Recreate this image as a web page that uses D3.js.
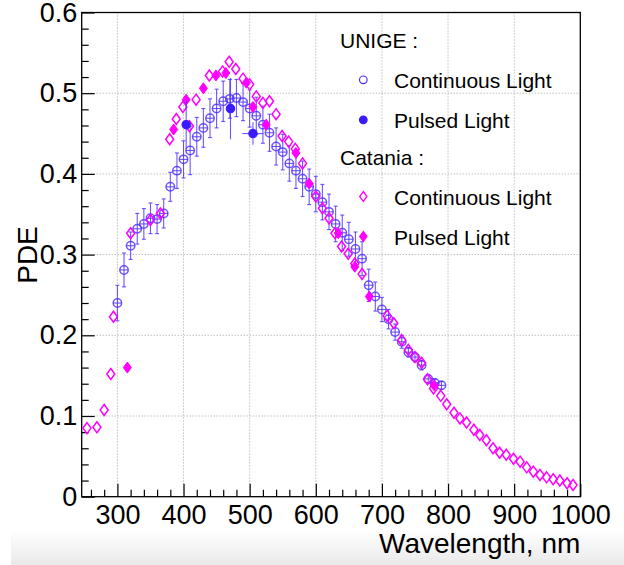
<!DOCTYPE html>
<html>
<head>
<meta charset="utf-8">
<script src="https://cdn.jsdelivr.net/npm/d3@7"></script>
<style>
  html, body { margin: 0; padding: 0; background: #fff; }
  svg { display: block; font-family: "Liberation Sans", Arial, Helvetica, sans-serif; }
</style>
</head>
<body>
<div id="chart"></div>
<script>
// UNIGE, continuous light (wavelength nm, PDE, error)
const unigeContX = [300, 310, 320, 330, 340, 350, 360, 370, 380, 390, 400, 410, 420, 430, 440, 450, 460, 470, 480, 490,
  500, 510, 520, 530, 540, 550, 560, 570, 580, 590, 600, 610, 620, 630, 640, 650, 660, 670, 680, 690,
  700, 710, 720, 730, 740, 750, 760, 770, 780, 790];
const unigeContY = [0.240, 0.281, 0.311, 0.332, 0.338, 0.345, 0.344, 0.351, 0.384, 0.404, 0.418, 0.429, 0.446, 0.457, 0.469, 0.481, 0.490, 0.493, 0.494, 0.489,
  0.481, 0.472, 0.461, 0.451, 0.434, 0.427, 0.413, 0.404, 0.394, 0.384, 0.375, 0.365, 0.353, 0.338, 0.327, 0.319, 0.307, 0.295, 0.262, 0.248,
  0.232, 0.220, 0.204, 0.192, 0.179, 0.173, 0.163, 0.146, 0.141, 0.138];
const unigeContErr = [0.022, 0.021, 0.017, 0.019, 0.019, 0.019, 0.018, 0.018, 0.018, 0.022, 0.023, 0.030, 0.024, 0.024, 0.024, 0.024, 0.025, 0.024, 0.023, 0.023,
  0.023, 0.023, 0.023, 0.023, 0.023, 0.022, 0.022, 0.022, 0.022, 0.022, 0.022, 0.022, 0.022, 0.022, 0.022, 0.021, 0.021, 0.021, 0.020, 0.018,
  0.015, 0.012, 0.010, 0.008, 0.006, 0.006, 0.006, 0.005, 0.005, 0.005];

// UNIGE, pulsed light
const unigePulsX = [404, 471, 505];
const unigePulsY = [0.461, 0.481, 0.450];
const unigePulsErrY = [0.030, 0.038, 0.014];
const unigePulsErrX = [0, 0, 16];

// Catania, continuous light
const cataniaContX = [254, 269, 280, 290, 294, 320, 350, 365, 379, 389, 399, 409, 419, 439, 459, 469, 479, 490, 500, 510,
  520, 530, 540, 549, 559, 569, 580, 600, 610, 620, 629, 639, 649, 659, 670, 708, 718, 730, 740, 750,
  760, 769, 778, 789, 798, 809, 818, 828, 839, 848, 858, 868, 878, 888, 899, 909, 919, 929, 939, 949,
  959, 969, 980, 989];
const cataniaContY = [0.085, 0.086, 0.1075, 0.152, 0.223, 0.3265, 0.343, 0.351, 0.443, 0.468, 0.483, 0.459, 0.492, 0.522, 0.527, 0.539, 0.530, 0.518, 0.511, 0.496,
  0.488, 0.490, 0.474, 0.447, 0.440, 0.431, 0.413, 0.372, 0.3575, 0.345, 0.3265, 0.310, 0.301, 0.289, 0.276, 0.224, 0.215, 0.194, 0.182, 0.173,
  0.166, 0.1455, 0.134, 0.125, 0.1145, 0.104, 0.097, 0.092, 0.083, 0.0765, 0.070, 0.060, 0.0545, 0.052, 0.047, 0.0434, 0.0364, 0.031, 0.027, 0.024,
  0.0216, 0.020, 0.0166, 0.0145];

// Catania, pulsed light
const cataniaPulsX = [315, 385, 404, 430, 449, 464, 495, 505, 525, 570, 590, 634, 659, 681, 779];
const cataniaPulsY = [0.160, 0.455, 0.492, 0.506, 0.522, 0.525, 0.513, 0.483, 0.461, 0.426, 0.388, 0.3265, 0.285, 0.248, 0.138];

const xTicks = [300, 400, 500, 600, 700, 800, 900, 1000];
const yTicks = [0, 0.1, 0.2, 0.3, 0.4, 0.5, 0.6];

const legendGroups = ["UNIGE :", "Catania :"];
const legendItems = ["Continuous Light", "Pulsed Light"];

const width = 624;
const height = 565;
const margin = { top: 12.5, right: 43.7, bottom: 68.3, left: 81.7 };

const blue = "#4a2cff";
const blueFill = "#3a1aff";
const magenta = "#ff00ff";
const fontSize = 27;

const x = d3.scaleLinear().domain([246, 1000]).range([margin.left, width - margin.right]);
const y = d3.scaleLinear().domain([0, 0.6]).range([height - margin.bottom, margin.top]);

const svg = d3.select("#chart").append("svg")
  .attr("width", width)
  .attr("height", height)
  .attr("viewBox", [0, 0, width, height]);

// screenshot shadow at the bottom
const defs = svg.append("defs");
const grad = defs.append("linearGradient").attr("id", "shade").attr("x1", 0).attr("x2", 0).attr("y1", 0).attr("y2", 1);
grad.append("stop").attr("offset", "0%").attr("stop-color", "#fff");
grad.append("stop").attr("offset", "100%").attr("stop-color", "#e9e9e9");
svg.append("rect").attr("x", 11).attr("y", 530).attr("width", width - 11).attr("height", height - 530).attr("fill", "url(#shade)");

const plotW = width - margin.left - margin.right;
const plotH = height - margin.top - margin.bottom;

// grid
const grid = svg.append("g").attr("stroke", "#a0a0a0").attr("stroke-width", 1).attr("stroke-dasharray", "1,2");
grid.selectAll(".gx").data(xTicks.slice(0, -1)).join("line")
  .attr("x1", (d) => x(d)).attr("x2", (d) => x(d))
  .attr("y1", margin.top).attr("y2", height - margin.bottom);
grid.selectAll(".gy").data(yTicks.slice(1, -1)).join("line")
  .attr("x1", margin.left).attr("x2", width - margin.right)
  .attr("y1", (d) => y(d)).attr("y2", (d) => y(d));

// axes, ticks pointing inside the frame
const xMinor = d3.range(260, 1001, 20).filter((d) => d % 100 !== 0);
const yMinor = d3.range(0.02, 0.6, 0.02).filter((d) => Math.abs(d * 10 - Math.round(d * 10)) > 0.01);

svg.append("g")
  .attr("transform", `translate(0,${height - margin.bottom})`)
  .call(d3.axisBottom(x).tickValues(xMinor).tickSize(-7).tickFormat(""))
  .call((g) => g.select(".domain").remove());
svg.append("g")
  .attr("class", "x-axis")
  .attr("transform", `translate(0,${height - margin.bottom})`)
  .call(d3.axisBottom(x).tickValues(xTicks).tickSize(-13).tickPadding(8.4).tickFormat(d3.format("d")))
  .call((g) => g.select(".domain").remove());

svg.append("g")
  .attr("transform", `translate(${margin.left},0)`)
  .call(d3.axisLeft(y).tickValues(yMinor).tickSize(-7).tickFormat(""))
  .call((g) => g.select(".domain").remove());
svg.append("g")
  .attr("class", "y-axis")
  .attr("transform", `translate(${margin.left},0)`)
  .call(d3.axisLeft(y).tickValues(yTicks).tickSize(-13).tickPadding(4.5).tickFormat((d) => (d === 0 ? "0" : d3.format(".1f")(d))))
  .call((g) => g.select(".domain").remove());

svg.selectAll(".tick line").attr("stroke", "#000").attr("stroke-width", 1.2);
svg.selectAll(".x-axis text, .y-axis text")
  .attr("font-size", fontSize)
  .attr("font-family", "Liberation Sans, Arial, Helvetica, sans-serif")
  .attr("fill", "#000");

// frame
svg.append("rect")
  .attr("x", margin.left).attr("y", margin.top)
  .attr("width", plotW).attr("height", plotH)
  .attr("fill", "none").attr("stroke", "#000").attr("stroke-width", 1.3);

// axis titles
svg.append("text")
  .attr("x", width - margin.right).attr("y", 553)
  .attr("text-anchor", "end").attr("font-size", 28)
  .text("Wavelength, nm");
svg.append("text")
  .attr("transform", `translate(37,255) rotate(-90)`)
  .attr("text-anchor", "middle").attr("font-size", 28)
  .text("PDE");

const diamond = "M0,-5.5L4,0L0,5.5L-4,0Z";
const r = 4.2;

// UNIGE continuous: circle with error bars crossing it
const unigeCont = unigeContX.map((d, i) => ({ x: d, y: unigeContY[i], e: unigeContErr[i] }));
const gU = svg.append("g").attr("stroke", blue).attr("stroke-opacity", 0.8).attr("fill", "none").attr("stroke-width", 1.1);
const uPt = gU.selectAll("g").data(unigeCont).join("g")
  .attr("transform", (d) => `translate(${x(d.x)},${y(d.y)})`);
uPt.append("line").attr("x1", 0).attr("x2", 0)
  .attr("y1", (d) => y(d.y + d.e) - y(d.y)).attr("y2", (d) => y(d.y - d.e) - y(d.y));
uPt.append("line").attr("x1", -2).attr("x2", 2)
  .attr("y1", (d) => y(d.y + d.e) - y(d.y)).attr("y2", (d) => y(d.y + d.e) - y(d.y));
uPt.append("line").attr("x1", -2).attr("x2", 2)
  .attr("y1", (d) => y(d.y - d.e) - y(d.y)).attr("y2", (d) => y(d.y - d.e) - y(d.y));
uPt.append("line").attr("x1", -r).attr("x2", r).attr("y1", 0).attr("y2", 0);
uPt.append("circle").attr("r", r).attr("stroke-width", 1.5);

// Catania continuous
const cataniaCont = cataniaContX.map((d, i) => ({ x: d, y: cataniaContY[i] }));
svg.append("g").selectAll("path").data(cataniaCont).join("path")
  .attr("d", diamond)
  .attr("transform", (d) => `translate(${x(d.x)},${y(d.y)})`)
  .attr("fill", "none").attr("stroke", magenta).attr("stroke-width", 1.5);

// Catania pulsed
const cataniaPuls = cataniaPulsX.map((d, i) => ({ x: d, y: cataniaPulsY[i] }));
svg.append("g").selectAll("path").data(cataniaPuls).join("path")
  .attr("d", diamond)
  .attr("transform", (d) => `translate(${x(d.x)},${y(d.y)})`)
  .attr("fill", magenta).attr("stroke", magenta).attr("stroke-width", 1);

// UNIGE pulsed: filled circles with error bars
const unigePuls = unigePulsX.map((d, i) => ({ x: d, y: unigePulsY[i], ey: unigePulsErrY[i], ex: unigePulsErrX[i] }));
const gP = svg.append("g").attr("stroke", blue).attr("stroke-width", 1.1);
const pPt = gP.selectAll("g").data(unigePuls).join("g")
  .attr("transform", (d) => `translate(${x(d.x)},${y(d.y)})`);
pPt.append("line").attr("stroke-opacity", 0.8).attr("x1", 0).attr("x2", 0)
  .attr("y1", (d) => y(d.y + d.ey) - y(d.y)).attr("y2", (d) => y(d.y - d.ey) - y(d.y));
pPt.append("line").attr("stroke-opacity", 0.8)
  .attr("x1", (d) => x(d.x - d.ex) - x(d.x)).attr("x2", (d) => x(d.x + d.ex) - x(d.x))
  .attr("y1", 0).attr("y2", 0);
pPt.append("circle").attr("r", r).attr("fill", blueFill).attr("stroke", blueFill);

// legend
const legend = svg.append("g").attr("font-size", 21);
const headY = [48.3, 165];
legendGroups.forEach((label, gi) => {
  legend.append("text").attr("x", 340).attr("y", headY[gi]).text(label);
  legendItems.forEach((item, ii) => {
    const by = headY[gi] + 40 * (ii + 1);
    legend.append("text").attr("x", 394).attr("y", by).text(item);
    const my = by - 8.5;
    if (gi === 0) {
      legend.append("circle").attr("cx", 363.3).attr("cy", my).attr("r", 3.8)
        .attr("fill", ii === 0 ? "none" : blueFill).attr("stroke", ii === 0 ? blue : blueFill).attr("stroke-width", 1.2);
    } else {
      legend.append("path").attr("d", "M0,-5L3.6,0L0,5L-3.6,0Z").attr("transform", `translate(363.3,${my})`)
        .attr("fill", ii === 0 ? "none" : magenta).attr("stroke", magenta).attr("stroke-width", 1.3);
    }
  });
});
</script>
</body>
</html>
